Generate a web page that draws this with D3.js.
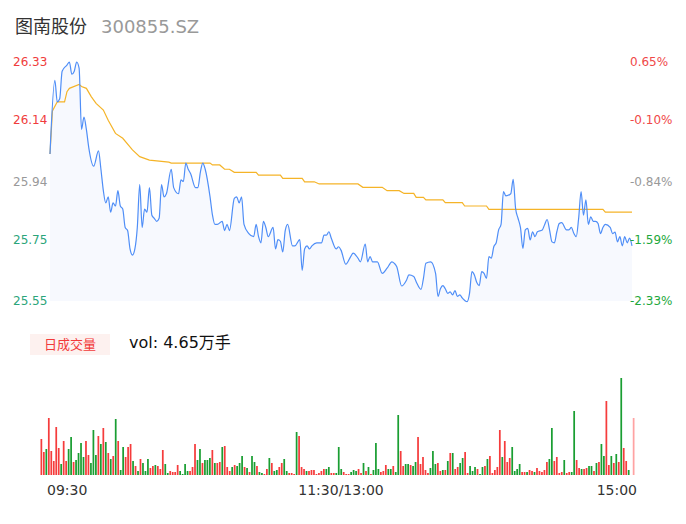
<!DOCTYPE html>
<html lang="zh">
	<head>
		<meta charset="UTF-8" />
		<title>图南股份</title>
	</head>
	<style>
		* {
			padding: 0;
			margin: 0;
			box-sizing: border-box;
		}
		body {
			background: #fff;
			font-family: 'DejaVu Sans', 'Noto Sans CJK SC', sans-serif;
		}
		.price-line {
			fill: none;
			stroke: #4f8ef7;
			stroke-width: 1.2px;
		}
		.avg-line {
			fill: none;
			stroke: #f5b428;
			stroke-width: 1.2px;
		}
		.area {
			fill: #f7f9fe;
		}
	</style>
	<body>
		<svg id="chart" width="686" height="524"></svg>
		<script src="https://d3js.org/d3.v7.min.js"></script>
		<script>
			// minute index (0 = 09:30, 240 = 15:00) and price at that minute
			let priceMinute = [0, 2, 3, 4, 5, 7, 8, 9, 10, 11, 12, 13, 14, 15, 16, 18, 20, 21, 22, 23, 24, 25, 26, 27, 28, 29, 30, 31, 32, 33, 34, 35, 36, 37, 38, 39, 40, 41, 42, 43, 44, 45, 46, 47, 48, 50, 51, 53, 54, 55, 56, 57, 58, 60, 61, 62, 63, 64, 66, 67, 68, 69, 71, 72, 73, 74, 76, 77, 78, 79, 80, 82, 84, 85, 86, 87, 88, 89, 90, 92, 93, 94, 95, 96, 97, 98, 100, 101, 103, 104, 105, 106, 107, 108, 110, 112, 113, 114, 115, 116, 118, 119, 120, 122, 124, 125, 127, 128, 130, 131, 132, 133, 135, 137, 139, 141, 142, 143, 145, 147, 148, 150, 151, 153, 154, 155, 157, 159, 160, 161, 162, 163, 164, 165, 166, 167, 168, 169, 170, 172, 173, 174, 175, 176, 177, 178, 179, 180, 181, 182, 183, 184, 185, 186, 187, 188, 190, 191, 192, 193, 194, 195, 196, 197, 198, 199, 200, 201, 203, 204, 205, 206, 207, 208, 209, 210, 211, 213, 214, 215, 216, 217, 218, 219, 220, 221, 222, 223, 224, 225, 226, 227, 228, 229, 231, 232, 233, 234, 235, 236, 237, 238, 239, 240];
			let priceValue = [26.03, 26.27, 26.2, 26.21, 26.3, 26.32, 26.33, 26.29, 26.3, 26.33, 26.31, 26.11, 26.15, 26.11, 26.05, 25.99, 26.04, 25.98, 25.91, 25.87, 25.89, 25.84, 25.87, 25.86, 25.91, 25.86, 25.85, 25.79, 25.78, 25.72, 25.7, 25.72, 25.79, 25.93, 25.79, 25.85, 25.84, 25.92, 25.83, 25.82, 25.81, 25.82, 25.93, 25.89, 25.9, 25.98, 25.92, 25.9, 25.945, 25.94, 26.0, 25.98, 25.965, 25.92, 25.92, 25.97, 26.0, 25.98, 25.89, 25.83, 25.8, 25.8, 25.81, 25.78, 25.8, 25.78, 25.885, 25.89, 25.87, 25.89, 25.8, 25.77, 25.76, 25.8, 25.76, 25.74, 25.81, 25.79, 25.76, 25.79, 25.72, 25.75, 25.745, 25.71, 25.78, 25.8, 25.73, 25.73, 25.75, 25.65, 25.72, 25.73, 25.72, 25.73, 25.74, 25.74, 25.765, 25.765, 25.776, 25.755, 25.72, 25.727, 25.716, 25.67, 25.695, 25.706, 25.69, 25.678, 25.736, 25.678, 25.695, 25.678, 25.678, 25.64, 25.657, 25.678, 25.673, 25.662, 25.599, 25.618, 25.635, 25.63, 25.613, 25.588, 25.624, 25.673, 25.678, 25.64, 25.565, 25.59, 25.6, 25.59, 25.575, 25.58, 25.57, 25.584, 25.565, 25.57, 25.56, 25.548, 25.575, 25.646, 25.635, 25.61, 25.6, 25.646, 25.64, 25.624, 25.695, 25.69, 25.727, 25.74, 25.782, 25.8, 25.907, 25.893, 25.9, 25.947, 25.852, 25.82, 25.79, 25.722, 25.782, 25.787, 25.749, 25.776, 25.76, 25.776, 25.782, 25.8, 25.816, 25.782, 25.743, 25.74, 25.776, 25.803, 25.806, 25.782, 25.782, 25.79, 25.771, 25.76, 25.82, 25.907, 25.83, 25.88, 25.8, 25.825, 25.81, 25.81, 25.803, 25.77, 25.79, 25.8, 25.79, 25.77, 25.775, 25.743, 25.76, 25.73, 25.76, 25.74, 25.755, 25.73];

			// average price line
			let avgMinute = [0, 1, 3, 6, 7, 8, 12, 13, 15, 17, 19, 22, 24, 27, 30, 34, 37, 41, 49, 50, 66, 67, 70, 72, 74, 76, 85, 86, 95, 96, 104, 105, 109, 111, 127, 129, 137, 139, 144, 146, 150, 151, 154, 155, 162, 163, 170, 171, 180, 181, 228, 229, 240];
			let avgValue = [26.03, 26.17, 26.2, 26.2, 26.233, 26.244, 26.257, 26.25, 26.244, 26.217, 26.195, 26.173, 26.14, 26.097, 26.081, 26.043, 26.021, 26.01, 26.003, 26.0, 26.0, 25.994, 25.994, 25.98, 25.98, 25.97, 25.97, 25.961, 25.961, 25.95, 25.95, 25.939, 25.939, 25.932, 25.932, 25.921, 25.921, 25.91, 25.91, 25.901, 25.901, 25.888, 25.888, 25.88, 25.88, 25.871, 25.871, 25.86, 25.86, 25.849, 25.849, 25.84, 25.84];

			// per-minute volume and direction (1 up / -1 down / 0 last tick)
			let volume = [36, 23, 26, 57, 24, 14, 48, 27, 11, 34, 14, 26, 38, 13, 15, 22, 32, 18, 34, 20, 12, 45, 20, 39, 31, 47, 33, 22, 16, 19, 56, 34, 5, 28, 18, 28, 31, 14, 9, 4, 16, 12, 4, 16, 7, 9, 10, 9, 6, 25, 11, 2, 4, 3, 3, 10, 4, 1, 11, 4, 4, 8, 31, 15, 26, 12, 15, 15, 17, 25, 12, 12, 13, 28, 29, 8, 4, 8, 10, 9,
				12, 19, 8, 7, 3, 19, 13, 9, 3, 2, 1, 6, 17, 12, 4, 5, 8, 12, 16, 4, 2, 2, 1, 43, 39, 8, 6, 4, 4, 5, 5, 1, 2, 4, 6, 6, 8, 2, 2, 2, 28, 6, 3, 1, 1, 3, 5, 4, 6, 2, 12, 4, 8, 1, 5, 32, 6, 3, 4, 10, 6, 6, 9, 3, 60, 24, 9, 11, 11, 10, 9, 13, 38, 11, 18, 5, 2, 7, 24, 11, 12, 4, 5, 5, 14, 22, 22, 6, 8,
				12, 17, 23, 2, 9, 4, 8, 6, 1, 8, 9, 16, 19, 2, 5, 8, 45, 18, 34, 13, 17, 28, 4, 6, 11, 3, 3, 3, 5, 4, 3, 7, 4, 3, 5, 13, 16, 47, 14, 18, 2, 3, 15, 2, 3, 3, 64, 15, 7, 6, 6, 7, 9, 9, 4, 12, 13, 31, 19, 74, 10, 19, 12, 21, 13, 97, 27, 14, 5, 0, 57];
			let direction = [1, 1, -1, 1, 1, 1, 1, 1, -1, 1, 1, -1, -1, 1, -1, -1, -1, -1, 1, 1, -1, -1, -1, 1, -1, 1, -1, 1, -1, 1, -1, 1, -1, -1, 1, 1, 1, -1, 1, -1, 1, -1, -1, -1, 1, 1, -1, 1, 1, 1, -1, -1, 1, 1, 1, 1, -1, -1, -1, -1, 1, 1, 1, -1, -1, 1, -1, -1, -1, 1, -1, 1, 1, -1, 1, 1, 1, -1, 1, -1,
				-1, -1, 1, -1, 1, -1, -1, 1, -1, -1, 1, 1, -1, 1, -1, -1, 1, 1, -1, -1, 1, 1, 1, -1, 1, 1, 1, -1, 1, 1, 1, 1, 1, 1, 1, -1, -1, 1, 1, -1, -1, -1, 1, 1, 1, -1, -1, -1, 1, 1, -1, 1, -1, 1, -1, -1, -1, 1, 1, 1, -1, -1, 1, -1, -1, 1, 1, -1, -1, 1, -1, -1, 1, 1, 1, 1, 1, -1, -1, -1, 1, 1, -1, 1, -1, 1, -1, 1, 1,
				-1, -1, 1, 1, -1, -1, -1, 1, -1, -1, 1, -1, 1, 1, 1, 1, 1, -1, 1, 1, 1, -1, -1, -1, -1, 1, 1, -1, 1, 1, -1, 1, 1, 1, 1, 1, -1, -1, 1, 1, 1, 1, -1, 1, 1, -1, -1, 1, 1, -1, 1, 1, -1, -1, 1, -1, 1, -1, -1, 1, 1, -1, 1, -1, 1, -1, 1, 1, -1, 0, 0];

			let priceTicks = [26.33, 26.14, 25.94, 25.75, 25.55];
			let pctTicks = ['0.65%', '-0.10%', '-0.84%', '-1.59%', '-2.33%'];
			let tickTone = ['up', 'up', 'flat', 'down', 'down'];
			let timeLabels = ['09:30', '11:30/13:00', '15:00'];
			let timeMinute = [0, 120, 240];

			let svg = d3.select('#chart');

			let x = d3.scaleLinear().domain([0, 240]).range([50, 632]);
			let y = d3.scaleLinear().domain([25.55, 26.33]).range([301, 62]);
			let xv = d3.scaleBand().domain(d3.range(volume.length)).range([40.5, 634.5]).paddingInner(0.3);
			let yv = d3.scaleLinear().domain([0, d3.max(volume)]).range([475, 378]);

			let leftColor = { up: '#f03c3c', flat: '#999', down: '#2aa57a' };
			let rightColor = { up: '#f04848', flat: '#999', down: '#1ea83c' };

			// title
			svg.append('text').attr('x', 15).attr('y', 33).attr('font-size', 18).attr('fill', '#333').text('图南股份');
			svg.append('text').attr('x', 101).attr('y', 33).attr('font-size', 18).attr('fill', '#999').text('300855.SZ');

			let pts = priceMinute.map((m, i) => [m, priceValue[i]]);
			let avgPts = avgMinute.map((m, i) => [m, avgValue[i]]);

			svg.append('path')
				.datum(pts)
				.attr('class', 'area')
				.attr('d', d3.area().curve(d3.curveMonotoneX).x(d => x(d[0])).y0(y(25.55)).y1(d => y(d[1])));

			svg.append('path')
				.datum(avgPts)
				.attr('class', 'avg-line')
				.attr('d', d3.line().x(d => x(d[0])).y(d => y(d[1])));

			svg.append('path')
				.datum(pts)
				.attr('class', 'price-line')
				.attr('d', d3.line().curve(d3.curveMonotoneX).x(d => x(d[0])).y(d => y(d[1])));

			// axis labels
			svg.selectAll('.yl')
				.data(priceTicks)
				.enter()
				.append('text')
				.attr('x', 13)
				.attr('y', d => y(d))
				.attr('dy', '0.35em')
				.attr('font-size', 12)
				.attr('fill', (d, i) => leftColor[tickTone[i]])
				.text(d => d.toFixed(2));

			svg.selectAll('.yr')
				.data(pctTicks)
				.enter()
				.append('text')
				.attr('x', 630)
				.attr('y', (d, i) => y(priceTicks[i]))
				.attr('dy', '0.35em')
				.attr('font-size', 12)
				.attr('fill', (d, i) => rightColor[tickTone[i]])
				.text(d => d);

			// volume header
			svg.append('rect').attr('x', 30).attr('y', 334).attr('width', 80).attr('height', 21).attr('fill', '#fdf1ef');
			svg.append('text').attr('x', 70).attr('y', 344.5).attr('dy', '0.35em').attr('text-anchor', 'middle').attr('font-size', 13).attr('fill', '#f23a3a').text('日成交量');
			svg.append('text').attr('x', 129).attr('y', 342).attr('dy', '0.35em').attr('font-size', 16).attr('fill', '#111').text('vol: 4.65万手');

			// volume bars
			svg.selectAll('.bar')
				.data(volume)
				.enter()
				.append('rect')
				.attr('x', (d, i) => xv(i))
				.attr('width', xv.bandwidth())
				.attr('y', d => yv(d))
				.attr('height', d => 475 - yv(d))
				.attr('fill', (d, i) => (direction[i] > 0 ? '#f53c3c' : direction[i] < 0 ? '#1a9e32' : '#ffa3a3'));

			// time labels
			svg.selectAll('.tl')
				.data(timeLabels)
				.enter()
				.append('text')
				.attr('x', (d, i) => x(timeMinute[i]) + [-3, 0, 5][i])
				.attr('y', 490)
				.attr('dy', '0.35em')
				.attr('text-anchor', (d, i) => ['start', 'middle', 'end'][i])
				.attr('font-size', 14)
				.attr('fill', '#333')
				.text(d => d);
		</script>
	</body>
</html>
